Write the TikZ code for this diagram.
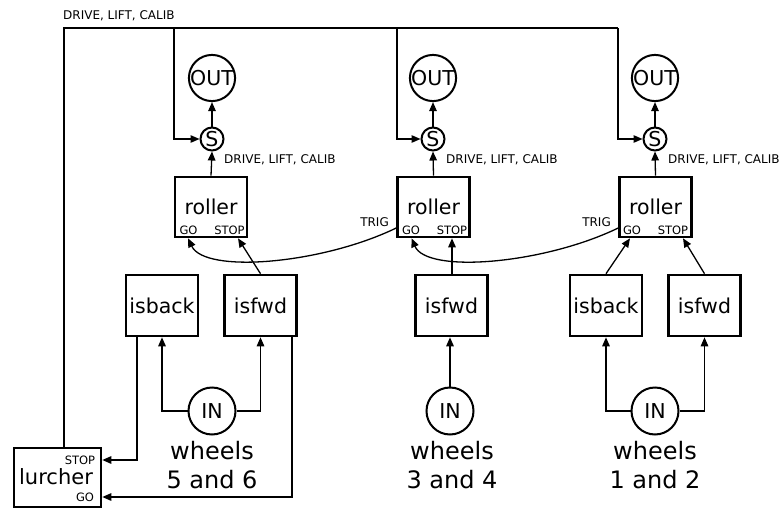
\documentclass[tikz,border=0pt]{standalone}
\usepackage{fontspec}
\setmainfont{DejaVu Sans}
\usetikzlibrary{arrows.meta}
\begin{document}
\begin{tikzpicture}[x=1pt,y=-1pt,
  box/.style={draw,line width=2.6pt,inner sep=0pt,minimum width=72pt,minimum height=61pt,font=\fontsize{20.5}{24}\selectfont},
  rbox/.style={box,minimum height=60pt},
  circ/.style={draw,circle,line width=2pt,inner sep=0pt,font=\fontsize{20.5}{24}\selectfont},
  outc/.style={circ,minimum size=44pt},
  inc/.style={circ,minimum size=47pt},
  sc/.style={circ,minimum size=23pt},
  small/.style={inner sep=0pt,font=\fontsize{12}{14}\selectfont},
  tiny/.style={inner sep=0pt,font=\fontsize{11.5}{13}\selectfont},
  wl/.style={align=center,inner sep=0pt,font=\fontsize{24}{29}\selectfont},
  wire/.style={line width=1.3pt},
  arr/.style={wire,-{Triangle[length=9pt,width=7.5pt]}},
]
\useasboundingbox (0,0) rectangle (780,509);

% column 1
\node[outc] (out1) at (212,78) {OUT};
\node[sc] (s1) at (212,139) {S};
\node[rbox] (roller1) at (211,207) {roller};
\node[tiny] (go1) at (188.5,230) {GO};
\node[tiny] (stop1) at (229.5,230) {STOP};
\node[box] (isback1) at (162,305.5) {isback};
\node[box] (isfwd1) at (260.5,305.5) {isfwd};
\node[inc] (in1) at (212,411) {IN};
\node[wl] (w1) at (212,465.5) {wheels\\5 and 6};

% column 2
\node[outc] (out2) at (433,78) {OUT};
\node[sc] (s2) at (433,139) {S};
\node[rbox] (roller2) at (433.5,207) {roller};
\node[tiny] (go2) at (411,230) {GO};
\node[tiny] (stop2) at (452,230) {STOP};
\node[box] (isfwd2) at (451.5,305.5) {isfwd};
\node[inc] (in2) at (450,411) {IN};
\node[wl] (w2) at (452,465.5) {wheels\\3 and 4};

% column 3
\node[outc] (out3) at (655,78) {OUT};
\node[sc] (s3) at (655,139) {S};
\node[rbox] (roller3) at (655.5,207) {roller};
\node[tiny] (go3) at (632,230) {GO};
\node[tiny] (stop3) at (673,230) {STOP};
\node[box] (isback3) at (606,305.5) {isback};
\node[box] (isfwd3) at (704.5,305.5) {isfwd};
\node[inc] (in3) at (655,411) {IN};
\node[wl] (w3) at (655,465.5) {wheels\\1 and 2};

% lurcher
\node[box,minimum width=87pt,minimum height=59pt,font=\fontsize{21}{24}\selectfont] (lurcher) at (57.5,477.5) {};
\node[inner sep=0pt,font=\fontsize{21}{24}\selectfont] (lt) at (56,477) {lurcher};
\node[tiny] (lstop) at (80,460) {STOP};
\node[tiny] (lgo) at (85,497) {GO};

% labels
\node[small,anchor=west] (topl) at (63,16) {DRIVE, LIFT, CALIB};
\node[small,anchor=west] (d1) at (224,160) {DRIVE, LIFT, CALIB};
\node[small,anchor=west] (d2) at (446,160) {DRIVE, LIFT, CALIB};
\node[small,anchor=west] (d3) at (668,160) {DRIVE, LIFT, CALIB};
\node[small,anchor=east] (t2) at (389,222) {TRIG};
\node[small,anchor=east] (t3) at (611,222) {TRIG};

% bus
\coordinate (lt0) at (64,447);
\coordinate (c0) at (64,28);
\coordinate (c1) at (174,28);
\coordinate (c2) at (397,28);
\coordinate (c3) at (618,28);
\draw[wire] (lt0) -- (c0) -- (c3);
\draw[arr] (c1) |- (s1.west);
\draw[arr] (c2) |- (s2.west);
\draw[arr] (c3) |- (s3.west);

% S -> OUT, roller -> S
\foreach \i in {1,2,3}{
  \draw[arr] (s\i.north) -- (out\i.south);
  \draw[arr] (roller\i.north) -- (s\i.south);
}

% isfwd/isback -> roller
\draw[arr] (isfwd1.north) -- ([xshift=27pt]roller1.south);
\draw[arr] (isfwd2.north -| stop2) -- ([xshift=18.5pt]roller2.south);
\draw[arr] (isback3.north) -- ([xshift=-25.5pt]roller3.south);
\draw[arr] (isfwd3.north) -- ([xshift=27.5pt]roller3.south);

% TRIG curves
\draw[arr] ([yshift=-21pt]roller2.west) .. controls (322,264) and (205,274) .. ([xshift=-23pt]roller1.south);
\draw[arr] ([yshift=-21pt]roller3.west) .. controls (544,264) and (427,274) .. ([xshift=-22pt]roller2.south);

% IN -> is*
\draw[arr] (in1.west) -| (isback1.south);
\draw[arr] (in1.east) -| (isfwd1.south);
\draw[arr] (in2.north) -- (in2.north |- isfwd2.south);
\draw[arr] (in3.west) -| (isback3.south);
\draw[arr] (in3.east) -| (isfwd3.south);

% to lurcher
\draw[arr] ([xshift=-25pt]isback1.south) |- ([yshift=17.5pt]lurcher.east);
\draw[arr] ([xshift=31.5pt]isfwd1.south) |- ([yshift=-19.5pt]lurcher.east);
\end{tikzpicture}
\end{document}
